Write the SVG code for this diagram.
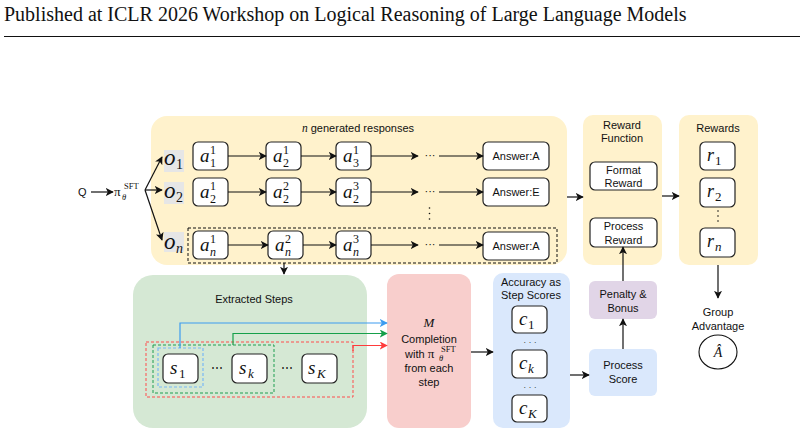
<svg xmlns="http://www.w3.org/2000/svg" width="804" height="436" viewBox="0 0 804 436">
<style>
.sans{font-family:"Liberation Sans",Arial,sans-serif;font-size:11px;fill:#111}
.mi{font-family:"Liberation Serif","Times New Roman",serif;font-style:italic;fill:#111}
.mr{font-family:"Liberation Serif","Times New Roman",serif;fill:#111}
.box{fill:#fff;stroke:#222;stroke-width:1.2}
.ln{fill:none;stroke:#111;stroke-width:1.2}
.dash{fill:none;stroke:#111;stroke-width:1;stroke-dasharray:3 2}
.a{font-family:"Liberation Serif","Times New Roman",serif;font-style:italic;font-size:19px;fill:#111}
.sp{font-family:"Liberation Serif","Times New Roman",serif;font-size:12px;fill:#111}
.spi{font-family:"Liberation Serif","Times New Roman",serif;font-style:italic;font-size:12px;fill:#111}
</style>
<defs>
<marker id="ah" viewBox="0 0 10 10" refX="9" refY="5" markerWidth="8" markerHeight="8" orient="auto" markerUnits="userSpaceOnUse">
<path d="M0,0 L10,5 L0,10 L2.5,5 z" fill="#111"/>
</marker>
<marker id="ahb" viewBox="0 0 10 10" refX="9" refY="5" markerWidth="8" markerHeight="8" orient="auto" markerUnits="userSpaceOnUse">
<path d="M0,0 L10,5 L0,10 L2.5,5 z" fill="#3d9cf0"/>
</marker>
<marker id="ahg" viewBox="0 0 10 10" refX="9" refY="5" markerWidth="8" markerHeight="8" orient="auto" markerUnits="userSpaceOnUse">
<path d="M0,0 L10,5 L0,10 L2.5,5 z" fill="#16a04a"/>
</marker>
<marker id="ahr" viewBox="0 0 10 10" refX="9" refY="5" markerWidth="8" markerHeight="8" orient="auto" markerUnits="userSpaceOnUse">
<path d="M0,0 L10,5 L0,10 L2.5,5 z" fill="#ff3b3b"/>
</marker>
</defs>
<rect width="804" height="436" fill="#fff"/>

<g id="header">
<text x="4" y="21" font-family="'Liberation Serif','Times New Roman',serif" font-size="20" fill="#111">Published at ICLR 2026 Workshop on Logical Reasoning of Large Language Models</text>
<line x1="4" y1="36.5" x2="800" y2="36.5" stroke="#111" stroke-width="1"/>
</g>

<g id="responses">
<rect x="151" y="116" width="416" height="149" rx="16" fill="#fff2cc"/>
<text x="302" y="132" font-size="11.5"><tspan class="mi">n</tspan><tspan class="sans" dx="3">generated responses</tspan></text>
<rect x="164" y="150" width="20" height="22" fill="#e6e6e6"/>
<rect x="164" y="182" width="20" height="22" fill="#e6e6e6"/>
<rect x="164" y="232" width="20" height="20" fill="#e6e6e6"/>
<text x="164" y="165" class="mi" font-size="23">o</text><text x="176" y="169" class="mr" font-size="14">1</text>
<text x="164" y="198" class="mi" font-size="23">o</text><text x="176" y="202" class="mr" font-size="14">2</text>
<text x="164" y="249" class="mi" font-size="23">o</text><text x="176" y="253" class="mi" font-size="14">n</text>
<rect x="188" y="228" width="369" height="35" class="dash"/>
</g>

<g id="a11"><rect x="193" y="142" width="35" height="28" rx="5" class="box"/><text x="200" y="162" class="a">a</text><text x="210" y="154" class="sp">1</text><text x="210" y="167" class="sp">1</text></g>
<g id="a21"><rect x="266" y="142" width="35" height="28" rx="5" class="box"/><text x="273" y="162" class="a">a</text><text x="283" y="154" class="sp">1</text><text x="283" y="167" class="sp">2</text></g>
<g id="a31"><rect x="336" y="142" width="35" height="28" rx="5" class="box"/><text x="343" y="162" class="a">a</text><text x="353" y="154" class="sp">1</text><text x="353" y="167" class="sp">3</text></g>
<g id="ans1"><rect x="483" y="142" width="66" height="28" rx="5" class="box"/><text x="516" y="160" class="sans" text-anchor="middle" font-size="10.5">Answer:A</text></g>

<g id="a12"><rect x="193" y="178" width="35" height="28" rx="5" class="box"/><text x="200" y="198" class="a">a</text><text x="210" y="190" class="sp">1</text><text x="210" y="203" class="sp">2</text></g>
<g id="a22"><rect x="266" y="178" width="35" height="28" rx="5" class="box"/><text x="273" y="198" class="a">a</text><text x="283" y="190" class="sp">2</text><text x="283" y="203" class="sp">2</text></g>
<g id="a32"><rect x="336" y="178" width="35" height="28" rx="5" class="box"/><text x="343" y="198" class="a">a</text><text x="353" y="190" class="sp">3</text><text x="353" y="203" class="sp">2</text></g>
<g id="ans2"><rect x="483" y="178" width="66" height="28" rx="5" class="box"/><text x="516" y="196" class="sans" text-anchor="middle" font-size="10.5">Answer:E</text></g>

<g id="a1n"><rect x="193" y="231" width="35" height="28" rx="5" class="box"/><text x="200" y="251" class="a">a</text><text x="210" y="243" class="sp">1</text><text x="210" y="256" class="spi">n</text></g>
<g id="a2n"><rect x="268" y="231" width="35" height="28" rx="5" class="box"/><text x="275" y="251" class="a">a</text><text x="285" y="243" class="sp">2</text><text x="285" y="256" class="spi">n</text></g>
<g id="a3n"><rect x="336" y="231" width="35" height="28" rx="5" class="box"/><text x="343" y="251" class="a">a</text><text x="353" y="243" class="sp">3</text><text x="353" y="256" class="spi">n</text></g>
<g id="ansn"><rect x="483" y="232" width="66" height="28" rx="5" class="box"/><text x="516" y="250" class="sans" text-anchor="middle" font-size="10.5">Answer:A</text></g>

<g id="dots">
<text x="430" y="159" class="sans" text-anchor="middle" font-size="9">···</text>
<text x="430" y="195" class="sans" text-anchor="middle" font-size="9">···</text>
<text x="430" y="248" class="sans" text-anchor="middle" font-size="9">···</text>
<circle cx="429.5" cy="208" r="0.8" fill="#111"/><circle cx="429.5" cy="213.5" r="0.8" fill="#111"/><circle cx="429.5" cy="219" r="0.8" fill="#111"/>
</g>

<g id="reward-function">
<rect x="583" y="115" width="79" height="150" rx="10" fill="#fff2cc"/>
<text x="622" y="129" class="sans" text-anchor="middle">Reward</text>
<text x="622" y="142" class="sans" text-anchor="middle">Function</text>
<rect x="590" y="162" width="67" height="28" rx="5" class="box"/>
<text x="623.5" y="174" class="sans" text-anchor="middle">Format</text>
<text x="623.5" y="187" class="sans" text-anchor="middle">Reward</text>
<rect x="590" y="218" width="67" height="29" rx="5" class="box"/>
<text x="623.5" y="230" class="sans" text-anchor="middle">Process</text>
<text x="623.5" y="244" class="sans" text-anchor="middle">Reward</text>
</g>

<g id="rewards">
<rect x="679" y="115" width="79" height="150" rx="10" fill="#fff2cc"/>
<text x="718" y="132" class="sans" text-anchor="middle">Rewards</text>
<rect x="700" y="142" width="35" height="28" rx="5" class="box"/>
<text x="707" y="161" class="mi" font-size="18">r</text><text x="715" y="165" class="mr" font-size="13">1</text>
<rect x="700" y="178" width="35" height="29" rx="5" class="box"/>
<text x="707" y="197" class="mi" font-size="18">r</text><text x="715" y="201" class="mr" font-size="13">2</text>
<circle cx="718" cy="211" r="0.8" fill="#111"/><circle cx="718" cy="216" r="0.8" fill="#111"/><circle cx="718" cy="221" r="0.8" fill="#111"/>
<rect x="700" y="228" width="35" height="29" rx="5" class="box"/>
<text x="707" y="247" class="mi" font-size="18">r</text><text x="715" y="251" class="mi" font-size="13">n</text>
</g>

<g id="group-advantage">
<text x="718" y="316" class="sans" text-anchor="middle">Group</text>
<text x="718" y="330" class="sans" text-anchor="middle">Advantage</text>
<ellipse cx="718" cy="352" rx="19" ry="17" fill="#fff" stroke="#111" stroke-width="1.1"/>
<text x="718" y="357" class="mi" font-size="14" text-anchor="middle">Â</text>
</g>

<g id="extracted-steps">
<rect x="133" y="275" width="234" height="153" rx="20" fill="#d5e8d4"/>
<text x="254" y="303" class="sans" text-anchor="middle" font-size="12">Extracted Steps</text>
<rect x="146" y="342" width="207" height="55" fill="none" stroke="#ff4d4d" stroke-width="1" stroke-dasharray="3 2"/>
<rect x="153" y="345" width="121" height="48" fill="none" stroke="#1e9e50" stroke-width="1" stroke-dasharray="3 2"/>
<rect x="158" y="348" width="45" height="39" fill="none" stroke="#7ab8f5" stroke-width="1.2" stroke-dasharray="3 2"/>
<rect x="163" y="354" width="35" height="29" rx="5" class="box"/>
<text x="170" y="374" class="mi" font-size="19">s</text><text x="179" y="378" class="mr" font-size="13">1</text>
<rect x="232" y="354" width="35" height="29" rx="5" class="box"/>
<text x="239" y="374" class="mi" font-size="19">s</text><text x="248" y="378" class="mi" font-size="13">k</text>
<rect x="302" y="354" width="35" height="29" rx="5" class="box"/>
<text x="308" y="374" class="mi" font-size="19">s</text><text x="317" y="378" class="mi" font-size="13">K</text>
<text x="217" y="372" class="mr" font-size="12" text-anchor="middle">⋯</text>
<text x="287" y="372" class="mr" font-size="12" text-anchor="middle">⋯</text>
</g>

<g id="completion">
<rect x="387" y="274" width="84" height="154" rx="12" fill="#f8cecc"/>
<text x="429" y="327" class="mi" font-size="13" text-anchor="middle">M</text>
<text x="429" y="343" class="sans" text-anchor="middle" font-size="11.5">Completion</text>
<text x="405" y="358" class="sans" font-size="11.5">with <tspan class="mr" font-size="13">π</tspan></text>
<text x="441" y="352" class="mr" font-size="8.5">SFT</text>
<text x="439" y="361" class="mi" font-size="8.5">θ</text>
<text x="429" y="372" class="sans" text-anchor="middle" font-size="11.5">from each</text>
<text x="429" y="386" class="sans" text-anchor="middle" font-size="11.5">step</text>
</g>

<g id="step-scores">
<rect x="493" y="273" width="77" height="155" rx="10" fill="#dae8fc"/>
<text x="531" y="286" class="sans" text-anchor="middle">Accuracy as</text>
<text x="531" y="299" class="sans" text-anchor="middle">Step Scores</text>
<rect x="512" y="306" width="35" height="27" rx="5" class="box"/>
<text x="519" y="325" class="mi" font-size="19">c</text><text x="528" y="329" class="mr" font-size="13">1</text>
<text x="530" y="345" class="mr" font-size="9" text-anchor="middle">· · ·</text>
<rect x="512" y="350" width="35" height="28" rx="5" class="box"/>
<text x="519" y="369" class="mi" font-size="19">c</text><text x="528" y="373" class="mi" font-size="13">k</text>
<text x="530" y="390" class="mr" font-size="9" text-anchor="middle">· · ·</text>
<rect x="512" y="395" width="35" height="27" rx="5" class="box"/>
<text x="519" y="414" class="mi" font-size="19">c</text><text x="528" y="418" class="mi" font-size="13">K</text>
</g>

<g id="penalty-bonus">
<rect x="589" y="281" width="68" height="38" rx="6" fill="#e1d5e7"/>
<text x="623" y="298" class="sans" text-anchor="middle">Penalty &amp;</text>
<text x="623" y="312" class="sans" text-anchor="middle">Bonus</text>
</g>
<g id="process-score">
<rect x="589" y="349" width="68" height="47" rx="6" fill="#dae8fc"/>
<text x="623" y="369" class="sans" text-anchor="middle">Process</text>
<text x="623" y="383" class="sans" text-anchor="middle">Score</text>
</g>

<g id="input">
<text x="78" y="196" class="sans" font-size="11.5">Q</text>
<text x="114" y="196" class="mr" font-size="13">π</text>
<text x="124" y="189" class="mr" font-size="8.5">SFT</text>
<text x="122" y="200" class="mi" font-size="8.5">θ</text>
</g>

<g id="connectors">
<line x1="91" y1="192" x2="113" y2="192" class="ln" marker-end="url(#ah)"/>
<line x1="145" y1="190" x2="162" y2="157" class="ln" marker-end="url(#ah)"/>
<line x1="145" y1="190" x2="162" y2="190" class="ln" marker-end="url(#ah)"/>
<line x1="145" y1="190" x2="162" y2="240" class="ln" marker-end="url(#ah)"/>
<line x1="228" y1="156" x2="266" y2="156" class="ln" marker-end="url(#ah)"/>
<line x1="301" y1="156" x2="336" y2="156" class="ln" marker-end="url(#ah)"/>
<line x1="371" y1="156" x2="418" y2="156" class="ln" marker-end="url(#ah)"/>
<line x1="439" y1="156" x2="483" y2="156" class="ln" marker-end="url(#ah)"/>
<line x1="228" y1="192" x2="266" y2="192" class="ln" marker-end="url(#ah)"/>
<line x1="301" y1="192" x2="336" y2="192" class="ln" marker-end="url(#ah)"/>
<line x1="371" y1="192" x2="418" y2="192" class="ln" marker-end="url(#ah)"/>
<line x1="439" y1="192" x2="483" y2="192" class="ln" marker-end="url(#ah)"/>
<line x1="228" y1="245" x2="268" y2="245" class="ln" marker-end="url(#ah)"/>
<line x1="303" y1="245" x2="336" y2="245" class="ln" marker-end="url(#ah)"/>
<line x1="371" y1="245" x2="418" y2="245" class="ln" marker-end="url(#ah)"/>
<line x1="439" y1="245" x2="483" y2="245" class="ln" marker-end="url(#ah)"/>
<line x1="567" y1="197" x2="583" y2="197" class="ln" marker-end="url(#ah)"/>
<line x1="662" y1="196" x2="679" y2="196" class="ln" marker-end="url(#ah)"/>
<line x1="718" y1="265" x2="718" y2="298" class="ln" marker-end="url(#ah)"/>
<line x1="284" y1="263" x2="284" y2="274" class="ln" marker-end="url(#ah)"/>
<path d="M180,348 V323 H387" fill="none" stroke="#3d9cf0" stroke-width="1.2" marker-end="url(#ahb)"/>
<path d="M233,345 V333.5 H387" fill="none" stroke="#16a04a" stroke-width="1.2" marker-end="url(#ahg)"/>
<path d="M353,351 V345.5 H387" fill="none" stroke="#ff3b3b" stroke-width="1.2" marker-end="url(#ahr)"/>
<line x1="471" y1="352" x2="493" y2="352" class="ln" marker-end="url(#ah)"/>
<line x1="570" y1="375" x2="589" y2="375" class="ln" marker-end="url(#ah)"/>
<line x1="623" y1="349" x2="623" y2="319" class="ln" marker-end="url(#ah)"/>
<line x1="623" y1="281" x2="623" y2="247" class="ln" marker-end="url(#ah)"/>
</g>
</svg>
